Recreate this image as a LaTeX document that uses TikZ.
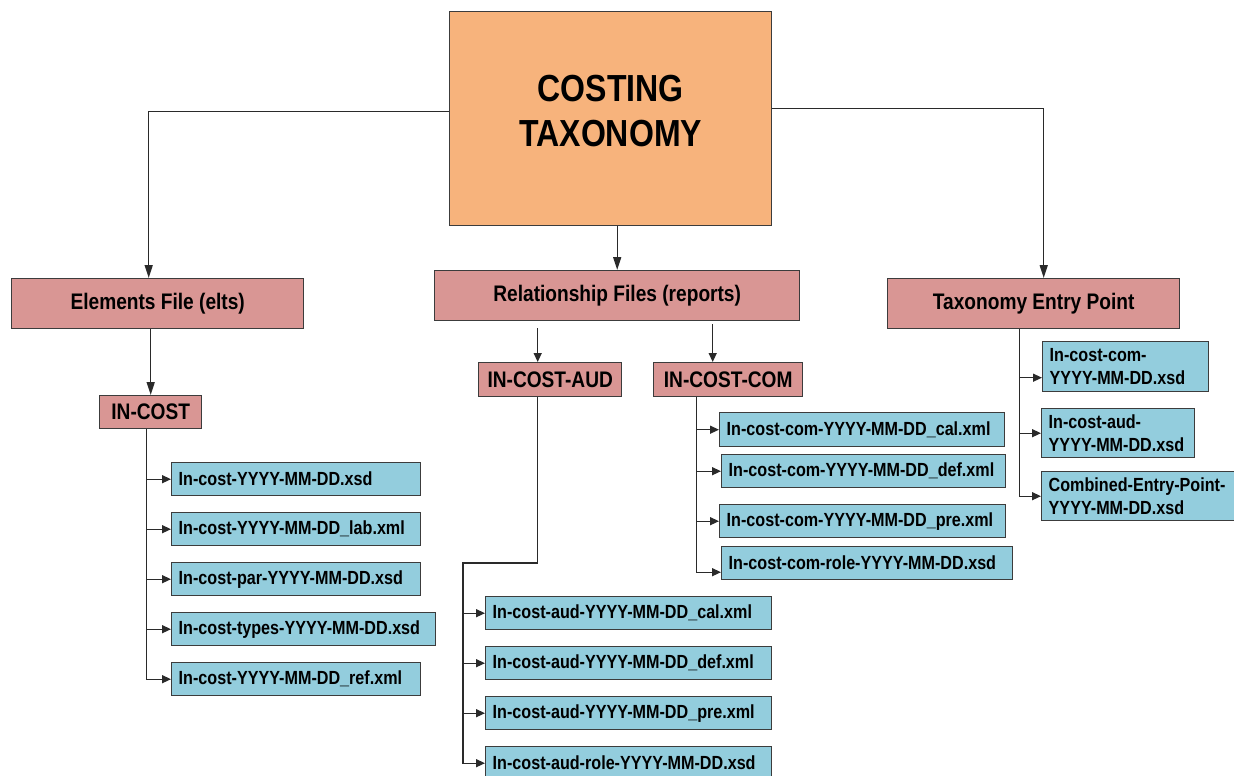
\documentclass[tikz,border=0pt]{standalone}
\usepackage{fontspec}
\setmainfont{Liberation Sans}[FakeStretch=0.85]
\usetikzlibrary{arrows.meta,calc}

\definecolor{orangefill}{HTML}{F7B37C}
\definecolor{pinkfill}{HTML}{D99694}
\definecolor{bluefill}{HTML}{93CDDD}
\definecolor{edge}{HTML}{3C3C3C}
\definecolor{wire}{HTML}{2A2A2A}

\tikzset{
  box/.style={draw=edge, line width=1.4pt, anchor=north west, inner sep=0pt},
  groupbox/.style={box, fill=pinkfill, font=\bfseries\fontsize{22.5}{26}\selectfont},
  filebox/.style={box, fill=bluefill, align=left, inner xsep=7pt, inner ysep=0pt,
    font=\bfseries\fontsize{19}{23}\selectfont},
  link/.style={draw=wire, line width=1.4pt},
  bigarrow/.style={link, -{Triangle[length=13pt,width=8pt]}},
  smallarrow/.style={link, -{Triangle[length=9pt,width=8pt]}},
}

\begin{document}
\begin{tikzpicture}[x=1pt,y=-1pt]
\fill[white] (0,0) rectangle (1234,776);
\useasboundingbox (0,0) rectangle (1234,776);

% root
\node[box, fill=orangefill, minimum width=322pt, minimum height=214pt] (top) at (449,11) {};
\node[font=\bfseries\fontsize{37.7}{45}\selectfont, align=center] (title)
  at ($(top.center)+(0,-8)$) {COSTING\\TAXONOMY};

% first level
\node[groupbox, minimum width=292pt, minimum height=50pt] (elts) at (11,278) {Elements File (elts)};
\node[groupbox, minimum width=365pt, minimum height=50pt] (rel) at (434,270) {Relationship Files (reports)};
\node[groupbox, minimum width=292pt, minimum height=50pt] (tax) at (887,278) {Taxonomy Entry Point};

% second level
\node[groupbox, minimum width=102pt, minimum height=33pt] (incost) at (99,395) {IN-COST};
\node[groupbox, minimum width=143pt, minimum height=34pt] (aud) at (478,362) {IN-COST-AUD};
\node[groupbox, minimum width=149pt, minimum height=34pt] (com) at (653,362) {IN-COST-COM};

% element files
\node[filebox, text width=235pt, minimum height=33pt] (e1) at (171,462) {\mbox{In-cost-YYYY-MM-DD.xsd}};
\node[filebox, text width=235pt, minimum height=33pt] (e2) at (171,512) {\mbox{In-cost-YYYY-MM-DD\_lab.xml}};
\node[filebox, text width=235pt, minimum height=33pt] (e3) at (171,562) {\mbox{In-cost-par-YYYY-MM-DD.xsd}};
\node[filebox, text width=250pt, minimum height=33pt] (e4) at (171,612) {\mbox{In-cost-types-YYYY-MM-DD.xsd}};
\node[filebox, text width=235pt, minimum height=33pt] (e5) at (171,662) {\mbox{In-cost-YYYY-MM-DD\_ref.xml}};

% common relationship files
\node[filebox, text width=271pt, minimum height=34pt] (c1) at (719,412) {\mbox{In-cost-com-YYYY-MM-DD\_cal.xml}};
\node[filebox, text width=270pt, minimum height=33pt] (c2) at (721,454) {\mbox{In-cost-com-YYYY-MM-DD\_def.xml}};
\node[filebox, text width=272pt, minimum height=33pt] (c3) at (719,504) {\mbox{In-cost-com-YYYY-MM-DD\_pre.xml}};
\node[filebox, text width=277pt, minimum height=33pt] (c4) at (721,546) {\mbox{In-cost-com-role-YYYY-MM-DD.xsd}};

% audit relationship files
\node[filebox, text width=272pt, minimum height=33pt] (a1) at (485,596) {\mbox{In-cost-aud-YYYY-MM-DD\_cal.xml}};
\node[filebox, text width=272pt, minimum height=33pt] (a2) at (485,646) {\mbox{In-cost-aud-YYYY-MM-DD\_def.xml}};
\node[filebox, text width=272pt, minimum height=33pt] (a3) at (485,696) {\mbox{In-cost-aud-YYYY-MM-DD\_pre.xml}};
\node[filebox, text width=272pt, minimum height=33pt] (a4) at (485,746) {\mbox{In-cost-aud-role-YYYY-MM-DD.xsd}};

% entry point files
\node[filebox, text width=152pt, minimum height=50pt] (t1) at (1042,341) {\mbox{In-cost-com-}\\\mbox{YYYY-MM-DD.xsd}};
\node[filebox, text width=139pt, minimum height=49pt] (t2) at (1041,408) {\mbox{In-cost-aud-}\\\mbox{YYYY-MM-DD.xsd}};
\node[filebox, text width=179pt, minimum height=49pt] (t3) at (1041,471) {\mbox{Combined-Entry-Point-}\\\mbox{YYYY-MM-DD.xsd}};

% root to first level
\draw[bigarrow] ([yshift=7pt]top.west) -| ([xshift=-9pt]elts.north);
\draw[bigarrow] ([yshift=10pt]top.east) -| ([xshift=10pt]tax.north);
\draw[bigarrow] (top.south -| rel.north) -- (rel.north);

% elements branch
\draw[bigarrow] (elts.south -| incost.north) -- (incost.north);
\coordinate (itrunk) at ([xshift=-4pt]incost.south);
\draw[smallarrow] (itrunk) |- (e5.west);
\foreach \n in {e1,e2,e3,e4} \draw[smallarrow] (itrunk |- \n.west) -- (\n.west);

% relationship branch
\coordinate (audin) at ([xshift=-12.5pt]aud.north);
\coordinate (comin) at ([xshift=-15.5pt]com.north);
\draw[smallarrow] ($(rel.south -| audin)+(0,7)$) -- (audin);
\draw[smallarrow] ($(rel.south -| comin)+(0,3)$) -- (comin);

\coordinate (audout) at ([xshift=-12.5pt]aud.south);
\coordinate (audbend) at (463,563);
\draw[smallarrow] (audout) |- (audbend) |- (a4.west);
\foreach \n in {a1,a2,a3} \draw[smallarrow] (audbend |- \n.west) -- (\n.west);

\coordinate (comout) at ([xshift=-31.5pt]com.south);
\draw[smallarrow] (comout) |- ([yshift=-9pt]c4.west);
\foreach \n in {c1,c2,c3} \draw[smallarrow] (comout |- \n.west) -- (\n.west);

% entry point branch
\coordinate (taxout) at ([xshift=-14pt]tax.south);
\draw[smallarrow] (taxout) |- (t3.west);
\draw[smallarrow] (taxout |- t2.west) -- (t2.west);
\draw[smallarrow] ($(taxout |- t1.west)+(0,11)$) -- ($(t1.west)+(0,11)$);
\end{tikzpicture}
\end{document}
